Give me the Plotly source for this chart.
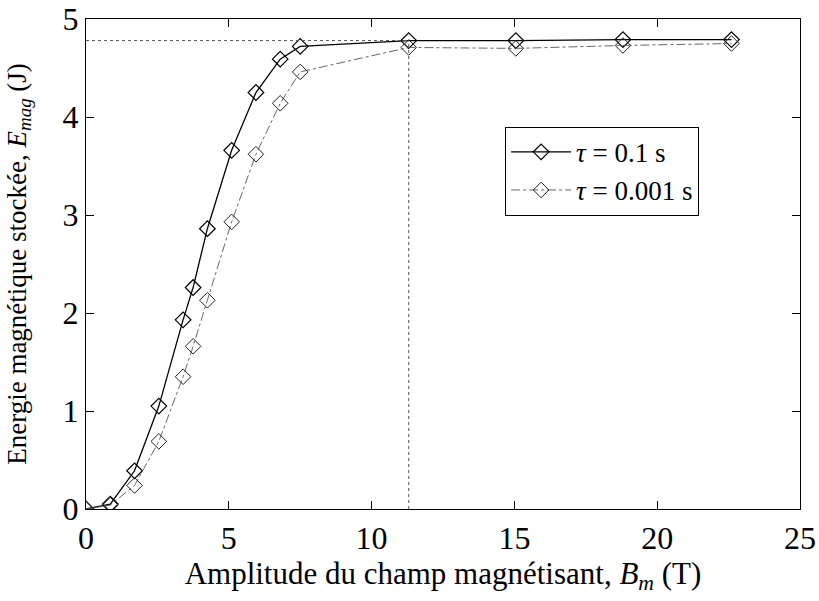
import plotly.graph_objects as go

# Data
b_field = [0, 0.85, 1.7, 2.55, 3.4, 3.75, 4.25, 5.1, 5.95, 6.8, 7.5, 11.3, 15.05, 18.8, 22.6]
e_tau_01 = [0, 0.05, 0.39, 1.05, 1.93, 2.26, 2.86, 3.66, 4.25, 4.59, 4.72, 4.78, 4.78, 4.79, 4.79]
e_tau_0001 = [0, 0.04, 0.24, 0.69, 1.35, 1.66, 2.13, 2.93, 3.62, 4.14, 4.46, 4.71, 4.70, 4.73, 4.75]
series_names = ["<i>τ</i> = 0.1 s", "<i>τ</i> = 0.001 s"]
ref_x = 11.3
ref_y = 4.78
x_ticks = [0, 5, 10, 15, 20, 25]
y_ticks = [0, 1, 2, 3, 4, 5]

FONT = "Liberation Serif, Times New Roman, serif"

fig = go.Figure()
fig.add_trace(go.Scatter(
    x=b_field, y=e_tau_01, name=series_names[0], mode="lines+markers",
    line=dict(color="black", width=1.3),
    marker=dict(symbol="diamond-open", size=12, color="black", line=dict(width=1.2)),
))
fig.add_trace(go.Scatter(
    x=b_field, y=e_tau_0001, name=series_names[1], mode="lines+markers",
    line=dict(color="#555555", width=0.9, dash="dashdot"),
    marker=dict(symbol="diamond-open", size=12, color="#222222", line=dict(width=1)),
))

# Reference dotted lines
fig.add_shape(type="line", x0=0, x1=ref_x, y0=ref_y, y1=ref_y, xref="x", yref="y",
              line=dict(color="#555555", width=1, dash="dot"))
fig.add_shape(type="line", x0=ref_x, x1=ref_x, y0=0, y1=ref_y, xref="x", yref="y",
              line=dict(color="#555555", width=1, dash="dot"))

axis_common = dict(
    showgrid=False, zeroline=False, showline=True, linecolor="black", linewidth=1.3,
    mirror="ticks", ticks="inside", ticklen=8, tickcolor="black", tickwidth=1.3,
    tickfont=dict(family=FONT, size=32, color="black"),
    automargin=False, ticklabeloverflow="allow",
)

fig.update_layout(
    width=819, height=601,
    margin=dict(l=86, r=19, t=19, b=92),
    paper_bgcolor="white", plot_bgcolor="white",
    font=dict(family=FONT, color="black"),
    xaxis=dict(range=[0, 25], tickvals=x_ticks, ticktext=[str(v) for v in x_ticks],
               title=dict(text="Amplitude du champ magnétisant, <i>B</i><sub><i>m</i></sub> (T)",
                          font=dict(family=FONT, size=31, color="black"), standoff=6),
               **axis_common),
    yaxis=dict(range=[0, 5], tickvals=y_ticks, ticktext=[str(v) for v in y_ticks],
               ticklabelstandoff=0,
               title=dict(text="Energie magnétique stockée, <i>E</i><sub><i>mag</i></sub> (J)",
                          font=dict(family=FONT, size=27, color="black"), standoff=28),
               **axis_common),
    legend=dict(x=0.587, y=0.78, xanchor="left", yanchor="top",
                bordercolor="black", borderwidth=1, bgcolor="white",
                font=dict(family=FONT, size=27, color="black"),
                tracegroupgap=0, itemwidth=60, entrywidth=225, entrywidthmode="pixels"),
    showlegend=True,
)

# remove the page's default 8px body margin so the 819x601 figure fills the window
fig.write_html("out.html", config={"displayModeBar": False},
               post_script="document.body.style.margin='0';")
